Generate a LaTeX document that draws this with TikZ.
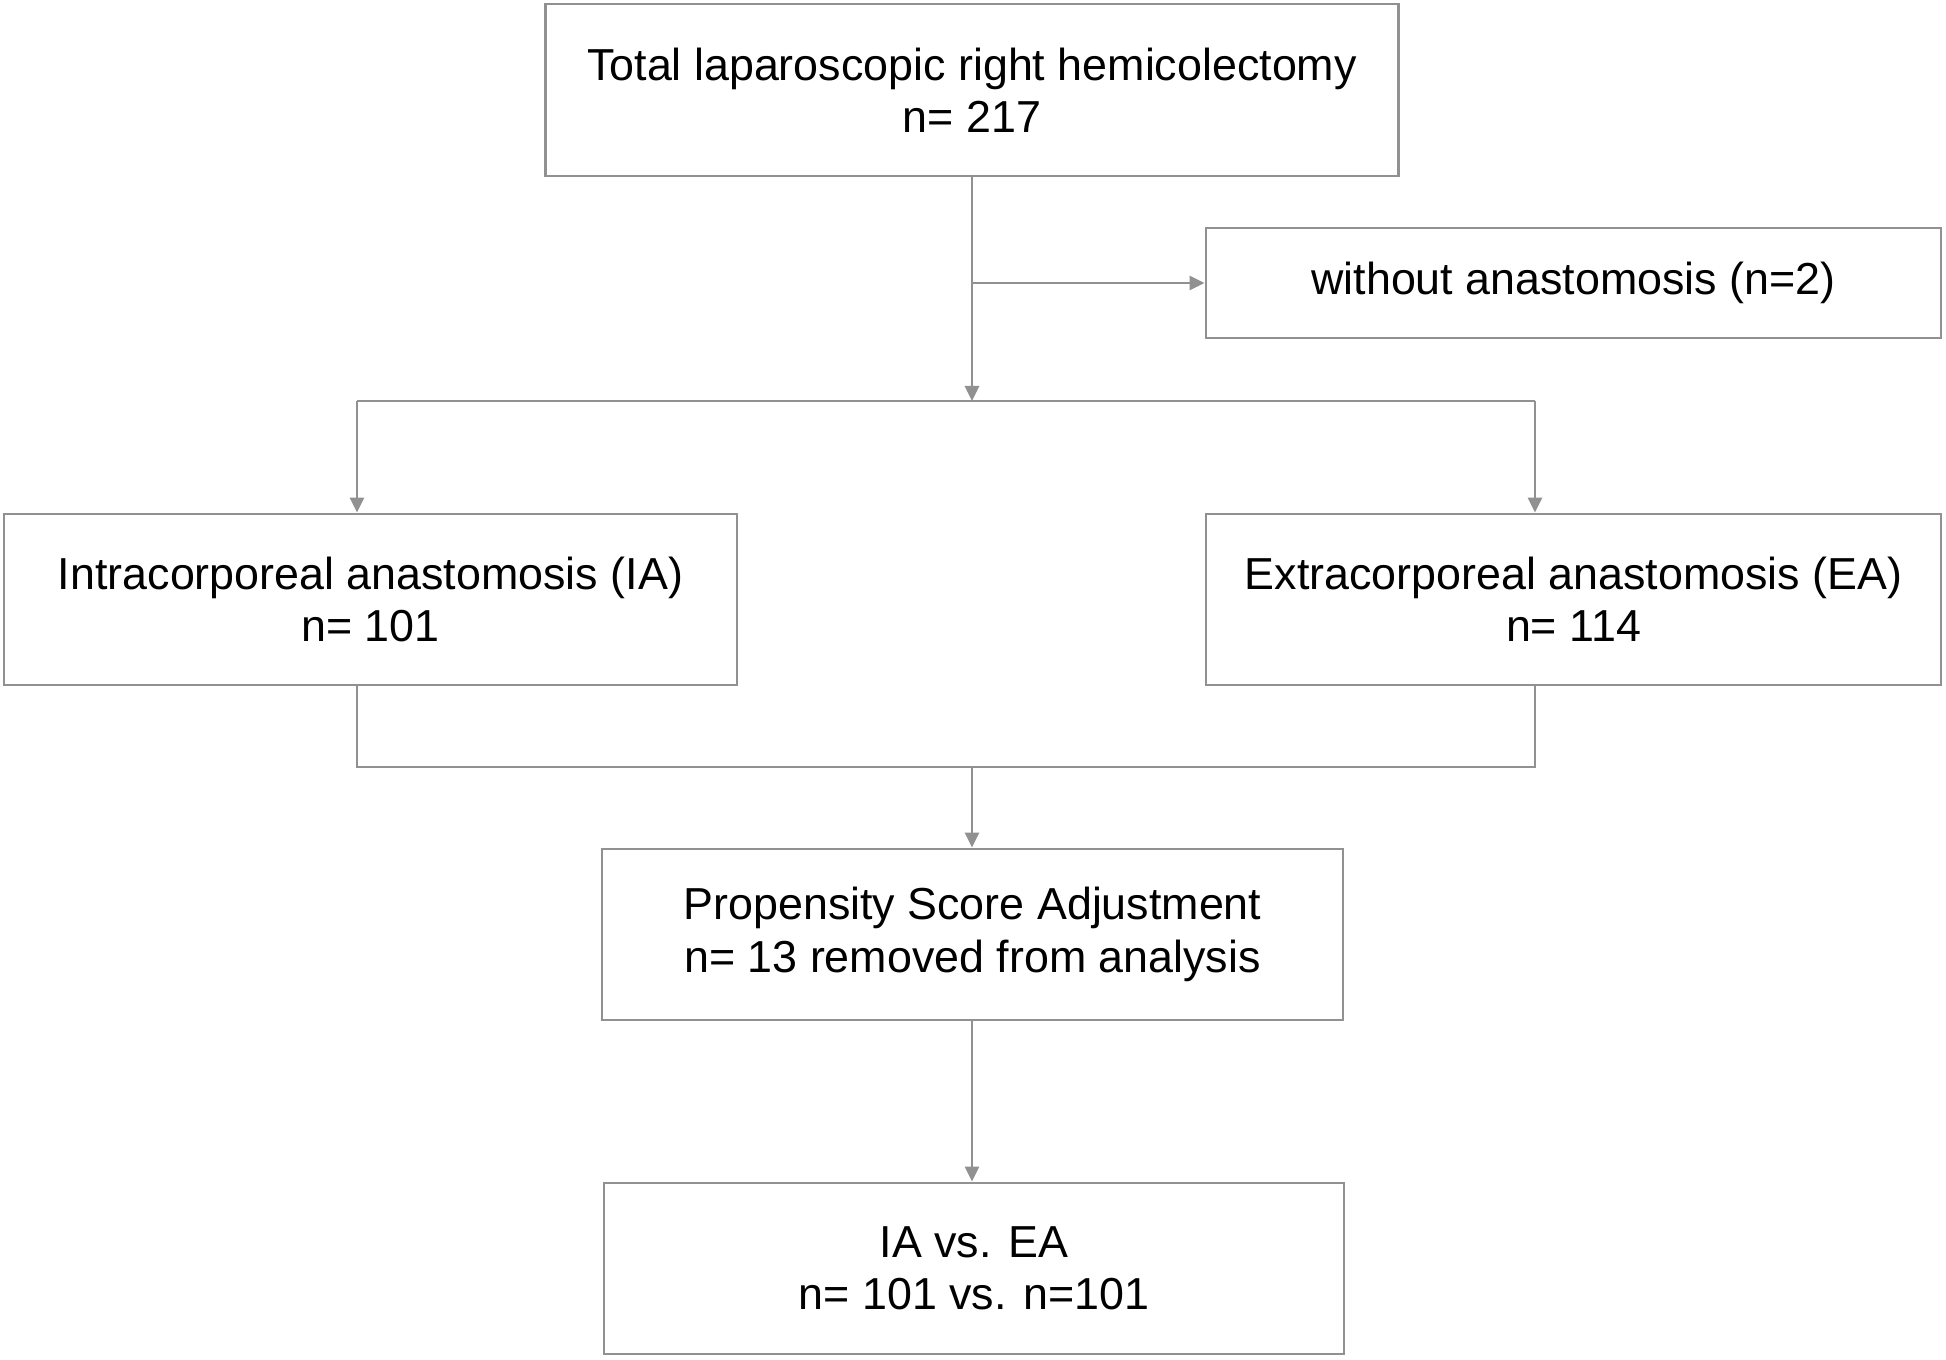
\documentclass[tikz,border=0pt]{standalone}
\usepackage{fontspec}
\setmainfont{Liberation Sans}
\usepackage{tikz}
\usetikzlibrary{arrows.meta,positioning}
\definecolor{flowgray}{RGB}{145,145,145}
\tikzstyle{box} = [rectangle, draw=flowgray, line width=0.8pt, align=center, inner sep=0pt, font=\fontsize{12.75}{14.9}\selectfont]
\tikzstyle{line} = [draw=flowgray, line width=0.8pt]
\tikzstyle{arrow} = [line, -{Triangle[length=1.5mm,width=1.4mm]}]

\begin{document}
\begin{tikzpicture}
\useasboundingbox (0,0) rectangle (19.46,13.60);

% boxes
\node[box, minimum width=8.53cm, minimum height=1.72cm] (total) at (9.72,12.70) {Total laparoscopic right hemicolectomy\\n= 217};
\node[box, minimum width=7.35cm, minimum height=1.10cm] (without) at (15.735,10.77) {without anastomosis (n=2)};
\node[box, minimum width=7.33cm, minimum height=1.71cm] (ia) at (3.705,7.605) {Intracorporeal anastomosis (IA)\\n= 101};
\node[box, minimum width=7.35cm, minimum height=1.71cm] (ea) at (15.735,7.605) {Extracorporeal anastomosis (EA)\\n= 114};
\node[box, minimum width=7.41cm, minimum height=1.71cm] (psa) at (9.725,4.255) {Propensity Score Adjustment\\n= 13 removed from analysis};
\node[box, minimum width=7.40cm, minimum height=1.71cm] (result) at (9.74,0.915) {IA vs. EA\\n= 101 vs. n=101};

% junctions
\coordinate (split) at (9.72,9.59);
\coordinate (ia_in) at (3.57,9.59);
\coordinate (ea_in) at (15.35,9.59);
\coordinate (ia_out) at (3.57,5.93);
\coordinate (ea_out) at (15.35,5.93);
\coordinate (join) at (9.72,5.93);

% connectors
\draw[arrow] (total.south) -- (split);
\draw[arrow] (total.south |- without.west) -- (without.west);
\draw[line] (ia_in) -- (ea_in);
\draw[arrow] (ia_in) -- (ia_in |- ia.north);
\draw[arrow] (ea_in) -- (ea_in |- ea.north);
\draw[line] (ia_in |- ia.south) -- (ia_out) -- (ea_out) -- (ea_in |- ea.south);
\draw[arrow] (join) -- (join |- psa.north);
\draw[arrow] (join |- psa.south) -- (join |- result.north);
\end{tikzpicture}
\end{document}
